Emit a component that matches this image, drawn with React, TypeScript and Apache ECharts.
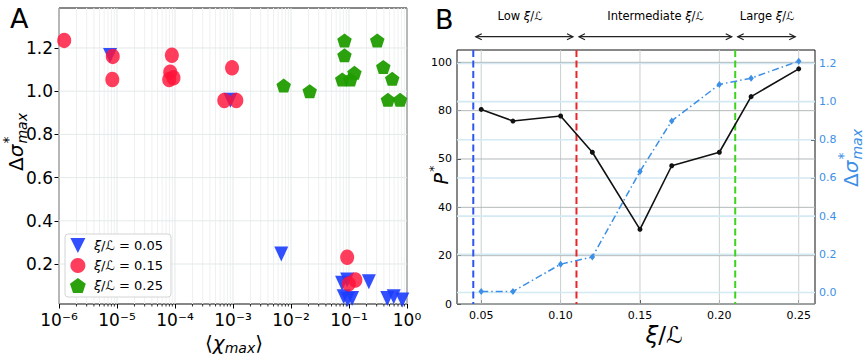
import React, { useEffect, useRef } from 'react';
import * as echarts from 'echarts';

const FONT = 'DejaVu Sans';

// ---------- Panel A data ----------
const tri05X = [7.6e-6, 9.0e-4, 0.0068, 0.076, 0.093, 0.22, 0.081, 0.113, 0.095, 0.457, 0.59, 0.83];
const tri05Y = [1.165, 0.958, 0.246, 0.111, 0.126, 0.118, 0.048, 0.041, 0.036, 0.041, 0.048, 0.034];
const cir15X = [1.23e-6, 8.45e-6, 8.3e-6, 8.83e-5, 8.26e-5, 7.94e-5, 9.42e-5, 9.62e-4, 7.07e-4, 1.14e-3, 0.093, 0.129, 0.099];
const cir15Y = [1.235, 1.161, 1.054, 1.166, 1.088, 1.054, 1.062, 1.108, 0.957, 0.957, 0.231, 0.126, 0.108];
const pen25X = [0.00748, 0.021, 0.0836, 0.0836, 0.0765, 0.106, 0.124, 0.307, 0.39, 0.556, 0.469, 0.76];
const pen25Y = [1.026, 1.0, 1.235, 1.166, 1.054, 1.054, 1.085, 1.235, 1.112, 1.057, 0.96, 0.96];
const seriesNamesA = ['ξ/ℒ = 0.05', 'ξ/ℒ = 0.15', 'ξ/ℒ = 0.25'];
const yTicksA = [0.2, 0.4, 0.6, 0.8, 1.0, 1.2];
const xDecadesA = [1e-6, 1e-5, 1e-4, 1e-3, 1e-2, 1e-1, 1];

// ---------- Panel B data ----------
const xiL = [0.05, 0.07, 0.1, 0.12, 0.15, 0.17, 0.2, 0.22, 0.25];
const pStar = [80.5, 75.7, 77.8, 62.8, 30.9, 57.2, 62.8, 85.8, 97.3];
const dSigma = [0.005, 0.005, 0.148, 0.186, 0.634, 0.899, 1.09, 1.123, 1.212];
const xTicksB = [0.05, 0.1, 0.15, 0.2, 0.25];
const leftTicksB = [0, 20, 40, 60, 80, 100];
const leftTickLabelsB = ['0', '20', '40', '50', '80', '100'];
const rightTicksB = [0, 0.2, 0.4, 0.6, 0.8, 1.0, 1.2];
const regimeBounds = [0.045, 0.11, 0.21, 0.25];
const regimeLines = [0.045, 0.11, 0.21];
const regimeColors = ['#2f55f0', '#e8262a', '#3ad41c'];
const regimeLabels = ['Low ', 'Intermediate ', 'Large '];

const BLUE = '#3d8fe6';

const supDigits: Record<string, string> = { '-': '⁻', '0': '⁰', '1': '¹', '2': '²', '3': '³', '4': '⁴', '5': '⁵', '6': '⁶', '7': '⁷', '8': '⁸', '9': '⁹' };
const sup = (n: number) => String(n).split('').map((c) => supDigits[c] || c).join('');

function measure(text: string, font: string) {
  const c = document.createElement('canvas').getContext('2d')!;
  c.font = font;
  return c.measureText(text).width;
}

// stacked super/subscript label, e.g. Δσ*_max, drawn rotated (bottom-to-top)
function rotatedMath(x: number, y: number, parts: { t: string; f: string }[], supT: string, subT: string, size: number, color: string) {
  const subSize = Math.round(size * 0.7);
  const widths = parts.map((p) => measure(p.t, p.f));
  const wMain = widths.reduce((a, b) => a + b, 0);
  const wSub = subT ? measure(subT, `italic ${subSize}px ${FONT}`) : 0;
  const wSup = measure(supT, `${subSize}px ${FONT}`);
  const total = wMain + 1 + Math.max(wSub, wSup);
  let cx = -total / 2;
  const children: any[] = [];
  parts.forEach((p, i) => {
    children.push({ type: 'text', x: cx, y: 0, style: { text: p.t, font: p.f, fill: color, align: 'left', verticalAlign: 'middle' } });
    cx += widths[i];
  });
  children.push({ type: 'text', x: cx + 1, y: -size * 0.42, style: { text: supT, font: `${subSize}px ${FONT}`, fill: color, align: 'left', verticalAlign: 'middle' } });
  if (subT) children.push({ type: 'text', x: cx + 1, y: size * 0.32, style: { text: subT, font: `italic ${subSize}px ${FONT}`, fill: color, align: 'left', verticalAlign: 'middle' } });
  return { type: 'group', x, y, rotation: Math.PI / 2, children };
}

export default function App() {
  const ref = useRef<HTMLDivElement>(null);

  useEffect(() => {
    const chart = echarts.init(ref.current!, null, { renderer: 'svg' });

    const minorX: { v: number; minor: number }[] = [];
    xDecadesA.forEach((d) => minorX.push({ v: d, minor: 0 }));
    for (let e = -6; e < 0; e++) for (let k = 2; k <= 9; k++) minorX.push({ v: k * Math.pow(10, e), minor: 1 });

    const pentagon = 'path://M0,-1L0.951,-0.309L0.588,0.809L-0.588,0.809L-0.951,-0.309Z';
    const triDown = 'path://M-1,-1L1,-1L0,1Z';

    const option: any = {
      animation: false,
      backgroundColor: '#fff',
      textStyle: { fontFamily: FONT },
      grid: [
        { left: 59, top: 8, width: 348, height: 296, show: true, borderColor: '#111', borderWidth: 1, backgroundColor: 'transparent' },
        { left: 457, top: 50, width: 358, height: 254, show: true, borderColor: '#111', borderWidth: 1, backgroundColor: 'transparent' },
      ],
      legend: {
        left: 65, top: 234, orient: 'vertical', data: seriesNamesA,
        itemWidth: 22, itemHeight: 15, itemGap: 5, padding: [4, 8, 4, 5],
        backgroundColor: '#fff', borderColor: '#d4d4d4', borderWidth: 1, borderRadius: 3,
        formatter: (name: string) => name.replace('ξ', '{i|ξ}'),
        textStyle: { fontFamily: FONT, fontSize: 13, color: '#000', rich: { i: { fontFamily: FONT, fontStyle: 'italic', fontSize: 13, color: '#000' } } },
      },
      xAxis: [
        {
          type: 'log', gridIndex: 0, min: 1e-6, max: 1, logBase: 10, splitNumber: 6,
          axisLine: { show: false },
          axisTick: { show: true, length: 4.5, lineStyle: { color: '#000' } },
          axisLabel: { fontSize: 17, color: '#000', fontFamily: FONT, margin: 7, formatter: (v: number) => '10' + sup(Math.round(Math.log10(v))) },
          splitLine: { show: false },
        },
        {
          type: 'value', gridIndex: 1, min: 0.03475, max: 0.26025,
          axisLine: { show: false },
          axisTick: { show: true, inside: true, length: 4, customValues: xTicksB, lineStyle: { color: '#000' } },
          axisLabel: { customValues: xTicksB, fontSize: 11, color: '#000', fontFamily: FONT, margin: 6, formatter: (v: number) => v.toFixed(2) },
          splitLine: { show: false },
        },
      ],
      yAxis: [
        {
          type: 'value', gridIndex: 0, min: 0.015, max: 1.385,
          axisLine: { show: false },
          axisTick: { show: true, length: 4.5, customValues: yTicksA, lineStyle: { color: '#000' } },
          axisLabel: { customValues: yTicksA, fontSize: 17, color: '#000', fontFamily: FONT, margin: 6, formatter: (v: number) => v.toFixed(1) },
          splitLine: { show: false },
        },
        {
          type: 'value', gridIndex: 1, min: 0, max: 105.1, position: 'left',
          axisLine: { show: false },
          axisTick: { show: true, inside: true, length: 4, customValues: leftTicksB, lineStyle: { color: '#000' } },
          axisLabel: { customValues: leftTicksB, fontSize: 11, color: '#000', fontFamily: FONT, margin: 5, formatter: (v: number) => leftTickLabelsB[leftTicksB.indexOf(Math.round(v))] ?? '' },
          splitLine: { show: false },
        },
        {
          type: 'value', gridIndex: 1, min: -0.0605, max: 1.2705, position: 'right',
          axisLine: { show: false },
          axisTick: { show: true, inside: true, length: 4, customValues: rightTicksB, lineStyle: { color: '#000' } },
          axisLabel: { customValues: rightTicksB, fontSize: 11, color: BLUE, fontFamily: FONT, margin: 4, formatter: (v: number) => v.toFixed(1) },
          splitLine: { show: false },
        },
      ],
      series: [
        // Panel A vertical grid + minor ticks
        {
          type: 'custom', name: 'gridAv', xAxisIndex: 0, yAxisIndex: 0, silent: true, z: 1, clip: false,
          data: minorX.map((m) => [m.v, 0.5, m.minor]),
          renderItem: (params: any, api: any) => {
            const cs = params.coordSys;
            const x = api.coord([api.value(0), 0.5])[0];
            const minor = api.value(2) === 1;
            const children: any[] = [
              { type: 'line', shape: { x1: x, y1: cs.y, x2: x, y2: cs.y + cs.height }, style: { stroke: minor ? '#eef1f1' : '#e4e9e9', lineWidth: 1 } },
            ];
            if (minor) children.push({ type: 'line', shape: { x1: x, y1: cs.y + cs.height, x2: x, y2: cs.y + cs.height + 2.5 }, style: { stroke: '#000', lineWidth: 0.8 } });
            return { type: 'group', children };
          },
        },
        {
          type: 'custom', name: 'gridAh', xAxisIndex: 0, yAxisIndex: 0, silent: true, z: 1,
          data: yTicksA.map((v) => [0.001, v]),
          renderItem: (params: any, api: any) => {
            const cs = params.coordSys;
            const y = api.coord([0.001, api.value(1)])[1];
            return { type: 'line', shape: { x1: cs.x, y1: y, x2: cs.x + cs.width, y2: y }, style: { stroke: '#e4e9e9', lineWidth: 1 } };
          },
        },
        {
          type: 'scatter', name: seriesNamesA[0], xAxisIndex: 0, yAxisIndex: 0, z: 3,
          symbol: triDown, symbolSize: [14, 15],
          itemStyle: { color: '#1c3cff', opacity: 0.9 },
          data: tri05X.map((x, i) => [x, tri05Y[i]]),
        },
        {
          type: 'scatter', name: seriesNamesA[1], xAxisIndex: 0, yAxisIndex: 0, z: 4,
          symbol: 'circle', symbolSize: [14, 15.5],
          itemStyle: { color: '#ff1238', opacity: 0.82 },
          data: cir15X.map((x, i) => [x, cir15Y[i]]),
        },
        {
          type: 'scatter', name: seriesNamesA[2], xAxisIndex: 0, yAxisIndex: 0, z: 5,
          symbol: pentagon, symbolSize: [14.5, 14],
          itemStyle: { color: '#1f9c00', opacity: 0.95 },
          data: pen25X.map((x, i) => [x, pen25Y[i]]),
        },
        // Panel B grids
        {
          type: 'custom', name: 'gridBv', xAxisIndex: 1, yAxisIndex: 1, silent: true, z: 1,
          data: xTicksB.map((v) => [v, 50]),
          renderItem: (params: any, api: any) => {
            const cs = params.coordSys;
            const x = api.coord([api.value(0), 50])[0];
            return { type: 'line', shape: { x1: x, y1: cs.y, x2: x, y2: cs.y + cs.height }, style: { stroke: '#c9cfcf', lineWidth: 1 } };
          },
        },
        {
          type: 'custom', name: 'gridBhR', xAxisIndex: 1, yAxisIndex: 2, silent: true, z: 1,
          data: rightTicksB.map((v) => [0.1, v]),
          renderItem: (params: any, api: any) => {
            const cs = params.coordSys;
            const y = api.coord([0.1, api.value(1)])[1];
            return { type: 'line', shape: { x1: cs.x, y1: y, x2: cs.x + cs.width, y2: y }, style: { stroke: '#d3e9f4', lineWidth: 1.6 } };
          },
        },
        {
          type: 'custom', name: 'gridBhL', xAxisIndex: 1, yAxisIndex: 1, silent: true, z: 1,
          data: leftTicksB.map((v) => [0.1, v]),
          renderItem: (params: any, api: any) => {
            const cs = params.coordSys;
            const y = api.coord([0.1, api.value(1)])[1];
            return { type: 'line', shape: { x1: cs.x, y1: y, x2: cs.x + cs.width, y2: y }, style: { stroke: '#b4baba', lineWidth: 1 } };
          },
        },
        {
          type: 'custom', name: 'regimes', xAxisIndex: 1, yAxisIndex: 1, silent: true, z: 2,
          data: regimeLines.map((v, i) => [v, 50, i]),
          renderItem: (params: any, api: any) => {
            const cs = params.coordSys;
            const x = api.coord([api.value(0), 50])[0];
            return { type: 'line', shape: { x1: x, y1: cs.y, x2: x, y2: cs.y + cs.height }, style: { stroke: regimeColors[api.value(2)], lineWidth: 2, lineDash: [7, 3.5] } };
          },
        },
        {
          type: 'line', name: 'dsigma', xAxisIndex: 1, yAxisIndex: 2, z: 3,
          data: xiL.map((x, i) => [x, dSigma[i]]),
          symbol: 'diamond', symbolSize: [5.5, 7], showSymbol: true,
          itemStyle: { color: BLUE },
          lineStyle: { color: BLUE, width: 1.5, type: [7, 3, 1.5, 3] },
        },
        {
          type: 'line', name: 'pstar', xAxisIndex: 1, yAxisIndex: 1, z: 4,
          data: xiL.map((x, i) => [x, pStar[i]]),
          symbol: 'circle', symbolSize: 5, showSymbol: true,
          itemStyle: { color: '#111' },
          lineStyle: { color: '#111', width: 1.6 },
        },
      ],
    };

    chart.setOption(option);

    const px = (v: number) => chart.convertToPixel({ xAxisIndex: 1 } as any, v) as unknown as number;
    const graphics: any[] = [];
    // panel letters
    graphics.push({ type: 'text', x: 10, y: 18, style: { text: 'A', font: `27px ${FONT}`, fill: '#000', align: 'left', verticalAlign: 'middle' } });
    graphics.push({ type: 'text', x: 435, y: 19, style: { text: 'B', font: `27px ${FONT}`, fill: '#000', align: 'left', verticalAlign: 'middle' } });
    // panel A titles
    graphics.push({
      type: 'text', x: 234, y: 343,
      style: {
        text: '{a|⟨}{c|χ}{s|max}{a|⟩}', align: 'center', verticalAlign: 'middle',
        rich: {
          a: { font: `20px ${FONT}`, fill: '#000', lineHeight: 24 },
          c: { font: `italic 20px ${FONT}`, fill: '#000', lineHeight: 24 },
          s: { font: `italic 14px ${FONT}`, fill: '#000', lineHeight: 14, verticalAlign: 'bottom' },
        },
      },
    });
    graphics.push(rotatedMath(16, 142, [{ t: 'Δ', f: `20px ${FONT}` }, { t: 'σ', f: `italic 20px ${FONT}` }], '*', 'max', 20, '#000'));
    // panel B titles
    graphics.push(rotatedMath(441, 175, [{ t: 'P', f: `italic 19px ${FONT}` }], '*', '', 19, '#000'));
    graphics.push(rotatedMath(851, 158, [{ t: 'Δ', f: `20px ${FONT}` }, { t: 'σ', f: `italic 20px ${FONT}` }], '*', 'max', 20, BLUE));
    graphics.push({
      type: 'text', x: 664, y: 335,
      style: {
        text: '{i|ξ}{n|/ℒ}', align: 'center', verticalAlign: 'middle',
        rich: { i: { font: `italic 23px ${FONT}`, fill: '#000' }, n: { font: `23px ${FONT}`, fill: '#000' } },
      },
    });
    // regime labels and arrows
    const labelCenters = [520, 655.5, 767];
    regimeLabels.forEach((lab, i) => {
      graphics.push({
        type: 'text', x: labelCenters[i], y: 16,
        style: {
          text: `{n|${lab}}{i|ξ}{n|/ℒ}`, align: 'center', verticalAlign: 'middle',
          rich: { n: { font: `11.5px ${FONT}`, fill: '#000' }, i: { font: `italic 11.5px ${FONT}`, fill: '#000' } },
        },
      });
      const x1 = px(regimeBounds[i]) + 2.5;
      const x2 = px(regimeBounds[i + 1]) - 3.5;
      const y = 36.7;
      const h = 6, w = 3;
      const st = { stroke: '#222', lineWidth: 1.2, fill: null };
      graphics.push({ type: 'line', shape: { x1, y1: y, x2, y2: y }, style: { stroke: '#222', lineWidth: 1.2 } });
      graphics.push({ type: 'polyline', shape: { points: [[x1 + h, y - w], [x1, y], [x1 + h, y + w]] }, style: st });
      graphics.push({ type: 'polyline', shape: { points: [[x2 - h, y - w], [x2, y], [x2 - h, y + w]] }, style: st });
    });

    chart.setOption({ graphic: graphics });

    return () => chart.dispose();
  }, []);

  return <div ref={ref} style={{ position: 'fixed', left: 0, top: 0, width: 864, height: 360, background: '#fff' }} />;
}
